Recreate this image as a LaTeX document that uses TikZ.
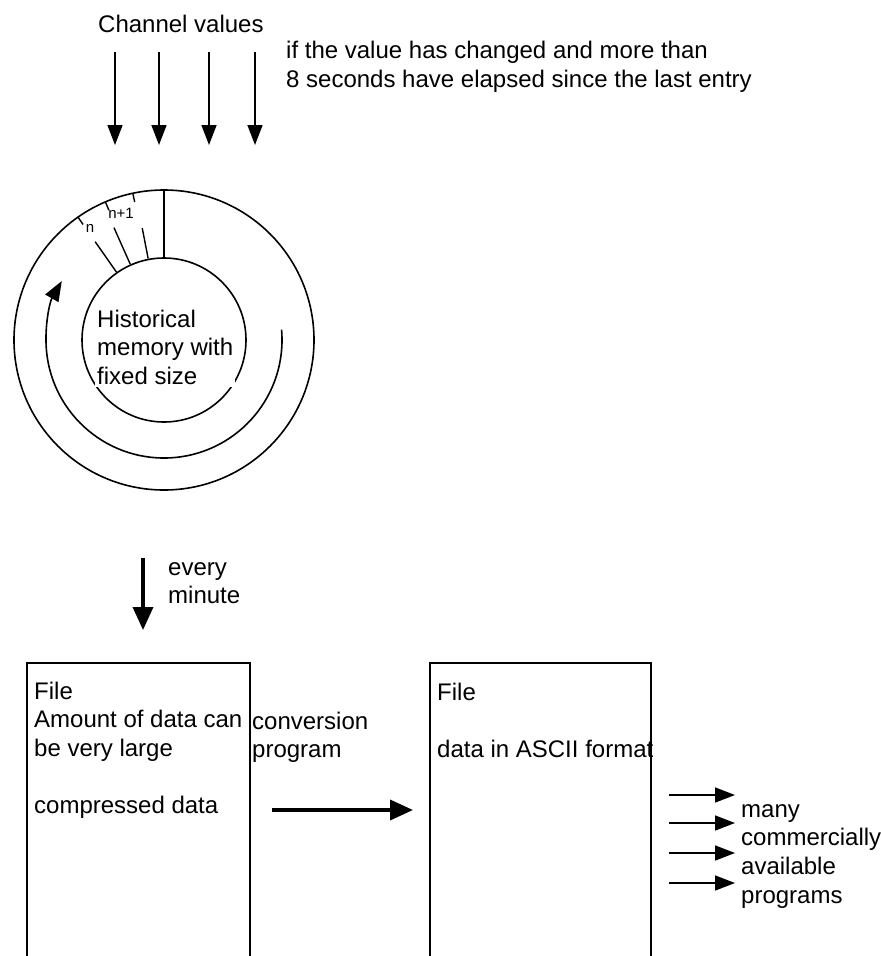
\documentclass[tikz,border=0pt]{standalone}
\usepackage{fontspec}
\setmainfont{Liberation Sans}
\usetikzlibrary{arrows.meta}

% multi-line text nodes are placed by the baseline of their last line
\tikzset{
  txt/.style={anchor=base west, align=left, inner sep=0pt,
    font=\fontsize{24}{28.7}\selectfont},
  small/.style={inner sep=0pt, font=\fontsize{15}{18}\selectfont},
  thinarrow/.style={line width=1.6pt, -{Triangle[length=20pt,width=15pt]}},
  thickarrow/.style={line width=3.6pt, -{Triangle[length=23pt,width=20pt]}},
  filebox/.style={line width=2pt}
}

\begin{document}
\begin{tikzpicture}[x=1pt,y=1pt]
\useasboundingbox (0,0) rectangle (881,-956);

% incoming channel values
\node[txt] (chan) at (98,-32) {Channel values};
\node[txt] (cond) at (286,-87) {if the value has changed and more than\\8 seconds have elapsed since the last entry};
\foreach \x [count=\i] in {115,159,209,255} {
  \coordinate (in\i) at (\x,-52);
  \coordinate (mem\i) at (\x,-145);
  \draw[thinarrow] (in\i) -- (mem\i);
}

% ring buffer
\coordinate (ring) at (164,-340);
\draw[line width=1.6pt] (ring) circle[radius=150];
\draw[line width=1.6pt] (ring) circle[radius=82];
\draw[thinarrow] ([shift={(5:118)}]ring) arc[start angle=5, end angle=-210, radius=118];
\draw[line width=1.6pt] ([shift={(90:82)}]ring) -- ([shift={(90:150)}]ring);
\foreach \a/\r in {125/120,114/123,101/114}
  \draw[line width=1.4pt] ([shift={(\a:83)}]ring) -- ([shift={(\a:\r)}]ring);
\foreach \a in {125,113,102}
  \draw[line width=1.4pt] ([shift={(\a:141)}]ring) -- ([shift={(\a:150)}]ring);
\node[small] (n) at (90,-228) {n};
\node[small] (n1) at (121,-213) {n+1};
\node[txt, fill=white, inner sep=2pt] (hist) at (95,-384.4) {Historical\\memory with\\fixed size};

% transfer to file
\coordinate (mem out) at (143,-558);
\coordinate (file in) at (143,-630);
\draw[thickarrow] (mem out) -- (file in);
\node[txt] (every) at (168,-603.7) {every\\minute};

% compressed file
\draw[filebox] (27,-960) |- (250,-663) -- (250,-960);
\node[txt] (file1) at (34,-813.8) {File\\Amount of data can\\be very large\\[28.7pt]compressed data};
\node[txt] (conv) at (252,-757.7) {conversion\\program};
\coordinate (conv out) at (272,-810);
\coordinate (ascii in) at (413,-810);
\draw[thickarrow] (conv out) -- (ascii in);

% ascii file
\draw[filebox] (430,-960) |- (651,-663) -- (651,-960);
\node[txt] (file2) at (437,-757.4) {File\\[28.7pt]data in ASCII format};
\foreach \y [count=\i] in {795,823,853,883} {
  \coordinate (out\i) at (669,-\y);
  \coordinate (prog\i) at (735,-\y);
  \draw[thinarrow] (out\i) -- (prog\i);
}
\node[txt] (progs) at (741,-903.1) {many\\commercially\\available\\programs};
\end{tikzpicture}
\end{document}
